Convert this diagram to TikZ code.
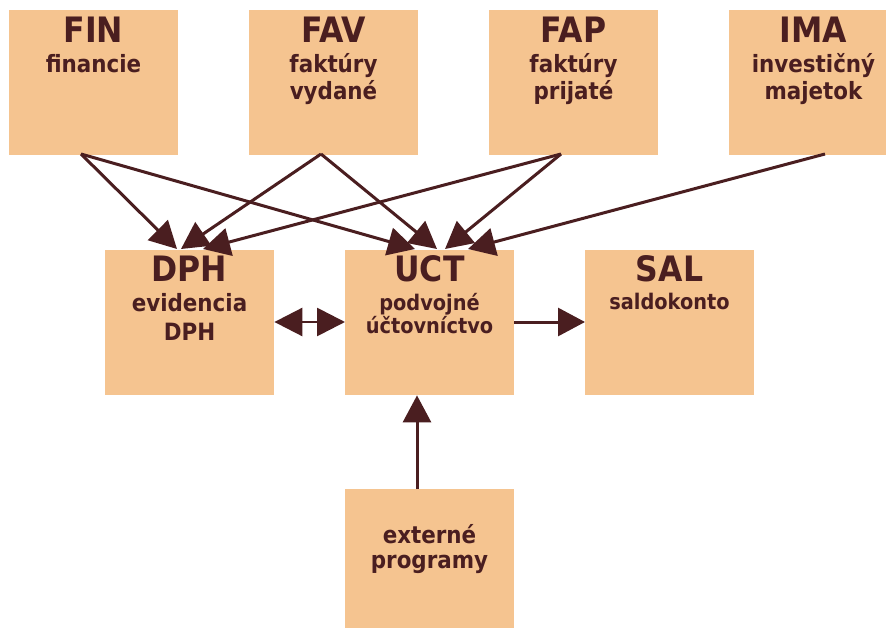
\documentclass[tikz,border=0pt]{standalone}
\usepackage{fontspec}
\setmainfont{DejaVu Sans}[FakeStretch=0.9]
\usetikzlibrary{arrows.meta}
\definecolor{boxc}{HTML}{F5C490}
\definecolor{dk}{HTML}{4A1E20}
\tikzset{
  box/.style={rectangle, fill=boxc, draw=none, inner sep=0pt, minimum width=169pt, minimum height=145pt, anchor=north west},
  ttl/.style={font=\fontsize{35}{35}\selectfont\bfseries, text=dk, anchor=base, inner sep=0pt},
  sub/.style={font=\fontsize{23.8}{23.8}\selectfont\bfseries, text=dk, anchor=base, inner sep=0pt},
  subs/.style={font=\fontsize{21.5}{21.5}\selectfont\bfseries, text=dk, anchor=base, inner sep=0pt},
  arr/.style={draw=dk, line width=3pt, -{Triangle[length=27pt,width=28pt]}},
  darr/.style={draw=dk, line width=2.8pt, {Triangle[length=28pt,width=28pt]}-{Triangle[length=28pt,width=28pt]}}
}
\begin{document}
\begin{tikzpicture}[x=1pt,y=-1pt]
\clip (0,0) rectangle (886,628);
\fill[white] (0,0) rectangle (886,628);
% boxes
\node[box] (fin) at (9,10) {};
\node[box] (fav) at (249,10) {};
\node[box] (fap) at (489,10) {};
\node[box] (ima) at (729,10) {};
\node[box] (dph) at (105,250) {};
\node[box] (uct) at (345,250) {};
\node[box] (sal) at (585,250) {};
\node[box, minimum height=139pt] (ext) at (345,489) {};
% texts
\node[ttl] (fint) at (93.5,43) {FIN};
\node[sub] (fins) at (93.5,73) {financie};
\node[ttl] (favt) at (333.5,43) {FAV};
\node[sub] (favs1) at (333.5,73) {faktúry};
\node[sub] (favs2) at (333.5,100) {vydané};
\node[ttl] (fapt) at (573.5,43) {FAP};
\node[sub] (faps1) at (573.5,73) {faktúry};
\node[sub] (faps2) at (573.5,100) {prijaté};
\node[ttl] (imat) at (813.5,43) {IMA};
\node[sub] (imas1) at (813.5,73) {investičný};
\node[sub] (imas2) at (813.5,100) {majetok};
\node[ttl] (dpht) at (189.5,282) {DPH};
\node[sub] (dphs1) at (189.5,312) {evidencia};
\node[sub] (dphs2) at (189.5,340) {DPH};
\node[ttl] (uctt) at (429.5,282) {UCT};
\node[subs] (ucts1) at (429.5,310) {podvojné};
\node[subs] (ucts2) at (429.5,334) {účtovníctvo};
\node[ttl] (salt) at (669.5,282) {SAL};
\node[subs] (sals) at (669.5,309) {saldokonto};
\node[sub] (exts1) at (429.5,543) {externé};
\node[sub] (exts2) at (429.5,568) {programy};
% connector end points
\coordinate (finS) at (81,154);
\coordinate (favS) at (321,154);
\coordinate (fapS) at (561,154);
\coordinate (imaS) at (825,154);
\coordinate (dphA) at (177,249);
\coordinate (dphB) at (181,249);
\coordinate (dphC) at (203,249);
\coordinate (uctA) at (415,249);
\coordinate (uctB) at (437,249);
\coordinate (uctC) at (445,249);
\coordinate (uctD) at (468,249);
% connectors
\draw[arr] (finS) -- (dphA);
\draw[arr] (finS) -- (uctA);
\draw[arr] (favS) -- (dphB);
\draw[arr] (favS) -- (uctB);
\draw[arr] (fapS) -- (dphC);
\draw[arr] (fapS) -- (uctC);
\draw[arr] (imaS) -- (uctD);
\draw[darr] (dph.east |- 0,322) -- (uct.west |- 0,322);
\draw[arr] (uct.east |- 0,322) -- (sal.west |- 0,322);
\draw[arr] (ext.north -| 417,0) -- (uct.south -| 417,0);
\end{tikzpicture}
\end{document}
